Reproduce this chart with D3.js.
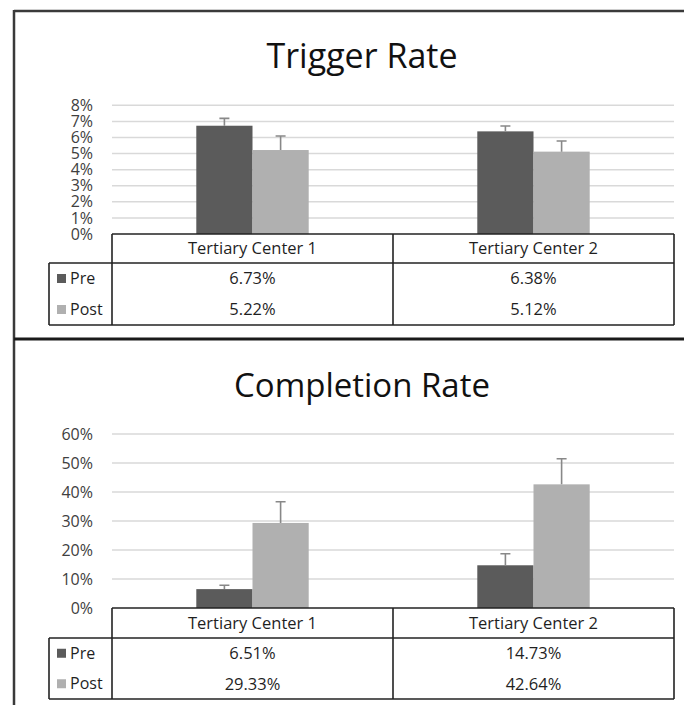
<!DOCTYPE html>
<html>
<head>
<meta charset="utf-8">
<script src="https://cdn.jsdelivr.net/npm/d3@7"></script>
<style>
  html, body { margin: 0; padding: 0; background: #fff; }
  svg { display: block; }
  text { font-family: "Open Sans", sans-serif; }
</style>
</head>
<body>
<svg id="chart" width="684" height="705"></svg>
<script>
// ---- data ----
const categories = ["Tertiary Center 1", "Tertiary Center 2"];
const seriesNames = ["Pre", "Post"];

const triggerPre = [6.73, 6.38];
const triggerPost = [5.22, 5.12];
const triggerPreErr = [0.46, 0.33];
const triggerPostErr = [0.87, 0.66];
const triggerTicks = [0, 1, 2, 3, 4, 5, 6, 7, 8];

const completionPre = [6.51, 14.73];
const completionPost = [29.33, 42.64];
const completionPreErr = [1.32, 3.99];
const completionPostErr = [7.33, 8.84];
const completionTicks = [0, 10, 20, 30, 40, 50, 60];

const colors = { Pre: "#5b5b5b", Post: "#b0b0b0" };

const svg = d3.select("#chart");

// outer frame
svg.append("line").attr("x1", 14).attr("x2", 684).attr("y1", 11).attr("y2", 11)
  .attr("stroke", "#3a3a3a").attr("stroke-width", 2.5);
svg.append("line").attr("x1", 14).attr("x2", 14).attr("y1", 10).attr("y2", 705)
  .attr("stroke", "#3a3a3a").attr("stroke-width", 2.5);
svg.append("line").attr("x1", 14).attr("x2", 684).attr("y1", 339).attr("y2", 339)
  .attr("stroke", "#1a1a1a").attr("stroke-width", 3);

function panel(cfg) {
  const g = svg.append("g");
  const x0 = d3.scaleBand().domain(categories).range([112, 674]).paddingInner(0).paddingOuter(0);
  const x1 = d3.scaleBand().domain(seriesNames).range([0, x0.bandwidth()]).paddingInner(0).paddingOuter(1.5);
  const y = d3.scaleLinear().domain([0, cfg.max]).range([cfg.y0, cfg.yTop]);

  // title
  g.append("text").attr("x", 362).attr("y", cfg.titleY).attr("text-anchor", "middle")
    .attr("font-size", cfg.titleSize).attr("fill", "#111").text(cfg.title);

  // gridlines
  g.selectAll(".grid").data(cfg.ticks.filter(t => t > 0)).join("line")
    .attr("x1", 112).attr("x2", 674)
    .attr("y1", d => y(d)).attr("y2", d => y(d))
    .attr("stroke", "#d9d9d9").attr("stroke-width", 1.5);

  // y axis labels
  const axis = d3.axisLeft(y).tickValues(cfg.ticks).tickFormat(d => d + "%").tickSize(0).tickPadding(0);
  const ag = g.append("g").attr("transform", "translate(93,0)").call(axis);
  ag.select(".domain").remove();
  ag.selectAll("text").attr("font-family", "Open Sans, sans-serif")
    .attr("font-size", cfg.tickSize).attr("fill", "#404040");

  // bars
  const rows = categories.map((c, i) => ({
    cat: c,
    vals: [
      { s: "Pre", v: cfg.pre[i], e: cfg.preErr[i] },
      { s: "Post", v: cfg.post[i], e: cfg.postErr[i] }
    ]
  }));
  const cg = g.selectAll(".cat").data(rows).join("g")
    .attr("transform", d => `translate(${x0(d.cat)},0)`);
  cg.selectAll("rect").data(d => d.vals).join("rect")
    .attr("x", d => x1(d.s)).attr("width", x1.bandwidth())
    .attr("y", d => y(d.v)).attr("height", d => y(0) - y(d.v))
    .attr("fill", d => colors[d.s]);
  // error bars
  cg.selectAll(".err").data(d => d.vals).join("path")
    .attr("d", d => {
      const cx = x1(d.s) + x1.bandwidth() / 2;
      const yt = y(d.v + d.e), yb = y(d.v);
      return `M${cx},${yb}V${yt}M${cx - 5},${yt}H${cx + 5}`;
    })
    .attr("stroke", "#888").attr("stroke-width", 1.6).attr("fill", "none");

  // data table
  const tTop = cfg.y0, hBot = cfg.y0 + cfg.hdrH, tBot = hBot + 2 * cfg.rowH;
  const ln = (x1_, y1_, x2_, y2_) => g.append("line").attr("x1", x1_).attr("y1", y1_)
    .attr("x2", x2_).attr("y2", y2_).attr("stroke", "#222").attr("stroke-width", 1.6);
  ln(112, tTop, 674, tTop);
  ln(49, hBot, 674, hBot);
  ln(49, tBot, 674, tBot);
  ln(49, hBot, 49, tBot);
  ln(112, tTop, 112, tBot);
  ln(x0(categories[1]), tTop, x0(categories[1]), tBot);
  ln(674, tTop, 674, tBot);

  const fs = 16.5;
  categories.forEach(c => {
    g.append("text").attr("x", x0(c) + x0.bandwidth() / 2).attr("y", (tTop + hBot) / 2)
      .attr("dy", "0.35em").attr("text-anchor", "middle").attr("font-size", fs)
      .attr("fill", "#1f1f1f").text(c);
  });
  const seriesVals = { Pre: cfg.pre, Post: cfg.post };
  seriesNames.forEach((s, si) => {
    const cy = hBot + cfg.rowH * si + cfg.rowH / 2;
    g.append("rect").attr("x", 57).attr("y", cy - 4.5).attr("width", 9).attr("height", 9)
      .attr("fill", colors[s]);
    g.append("text").attr("x", 70).attr("y", cy).attr("dy", "0.35em")
      .attr("font-size", 16).attr("fill", "#1f1f1f").text(s);
    categories.forEach((c, ci) => {
      g.append("text").attr("x", x0(c) + x0.bandwidth() / 2).attr("y", cy).attr("dy", "0.35em")
        .attr("text-anchor", "middle").attr("font-size", fs).attr("fill", "#1f1f1f")
        .text(d3.format(".2f")(seriesVals[s][ci]) + "%");
    });
  });
}

panel({
  title: "Trigger Rate", titleY: 68, titleSize: 34, tickSize: 16, max: 8, y0: 234, yTop: 105.3, ticks: triggerTicks,
  pre: triggerPre, post: triggerPost, preErr: triggerPreErr, postErr: triggerPostErr,
  hdrH: 29, rowH: 31
});
panel({
  title: "Completion Rate", titleY: 397, titleSize: 33, tickSize: 16, max: 60, y0: 608, yTop: 434, ticks: completionTicks,
  pre: completionPre, post: completionPost, preErr: completionPreErr, postErr: completionPostErr,
  hdrH: 30, rowH: 30.5
});
</script>
</body>
</html>
